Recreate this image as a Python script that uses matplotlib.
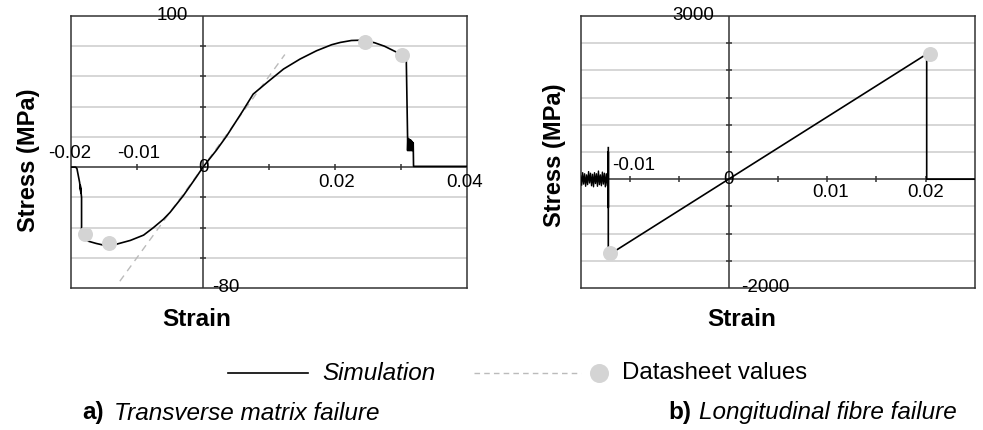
import numpy as np
import matplotlib
matplotlib.use('Agg')
import matplotlib.pyplot as plt
from matplotlib.lines import Line2D

plt.rcParams['font.family'] = ['Liberation Sans', 'DejaVu Sans']

# a) transverse matrix failure
sim_a_strain = [-0.0200, -0.0193, -0.0191, -0.0187, -0.0185, -0.0186, -0.0184, -0.0184,
                -0.0179, -0.0174, -0.0162, -0.0151, -0.0131, -0.0110, -0.0090, -0.0075,
                -0.0060, -0.0050, -0.0030, -0.0010, 0.0000, 0.0020, 0.0036, 0.0060,
                0.0076, 0.0097, 0.0122, 0.0147, 0.0172, 0.0195, 0.0208, 0.0225,
                0.0240, 0.0260, 0.0275, 0.0294, 0.0308]
sim_a_stress = [0.0, 0.0, -1.0, -10.0, -17.0, -12.0, -20.0, -46.0,
                -47.5, -49.0, -50.5, -51.6, -51.0, -48.5, -45.0, -40.0,
                -34.5, -30.0, -19.0, -6.5, 0.0, 11.0, 20.7, 37.0,
                48.3, 56.0, 64.9, 71.5, 77.0, 81.0, 82.5, 83.8,
                84.0, 82.3, 80.0, 75.9, 71.5]
# drop after failure, ringing, then zero
drop_a_strain = [0.0308, 0.0310, 0.03100, 0.03105, 0.03110, 0.03115, 0.03120, 0.03125,
                 0.03130, 0.03135, 0.03140, 0.03145, 0.03150, 0.03155, 0.03160, 0.03165,
                 0.03170, 0.03175, 0.03180, 0.03185, 0.0319, 0.0400]
drop_a_stress = [71.5, 19.0, 11.0, 19.0, 11.0, 18.5, 11.0, 18.5, 11.0, 18.0, 11.0,
                 18.0, 11.0, 17.5, 11.0, 17.0, 11.0, 16.5, 11.0, 16.0, 0.5, 0.5]
data_a_strain = [-0.0179, -0.0143, 0.02455, 0.0301]
data_a_stress = [-44.3, -50.5, 82.5, 74.1]
slope_a_strain = [-0.0126, 0.0124]
slope_a_stress = [-75.5, 74.5]

# b) longitudinal fibre failure
noise_b_strain = [-0.0150, -0.0149, -0.0148, -0.0147, -0.0146, -0.0145, -0.0144, -0.0143,
                  -0.0142, -0.0141, -0.0140, -0.0139, -0.0138, -0.0137, -0.0136, -0.0135,
                  -0.0134, -0.0133, -0.0132, -0.0131, -0.0130, -0.0129, -0.0128, -0.0127,
                  -0.0126, -0.0125, -0.0124, -0.0123, -0.0122]
noise_b_stress = [60, -110, 120, -90, 100, -130, 80, -100, 140, -70, 110, -120, 90, -140,
                  120, -80, 100, -130, 150, -100, 80, -120, 130, -90, 110, -140, 100, -120, 0]
sim_b_strain = [-0.0122, -0.0122, -0.0122, -0.0122, 0.0, 0.0201, 0.0201, 0.0250]
sim_b_stress = [580, -520, 500, -1397, 0, 2300, 0, 0]
data_b_strain = [-0.0120, 0.02047]
data_b_stress = [-1348, 2298]

fig = plt.figure(figsize=(9.83, 4.30), dpi=100)

grey = '#cccccc'
dot = '#d4d4d4'
frame = '#333333'


def setup(ax, xlim, ylim, ystep, xticks):
    ax.set_xlim(*xlim)
    ax.set_ylim(*ylim)
    for y in np.arange(ylim[0] + ystep, ylim[1], ystep):
        if abs(y) > 1e-9:
            ax.axhline(y, color=grey, lw=1.1, zorder=0)
    ax.axhline(0, color=frame, lw=1.1, zorder=1)
    ax.axvline(0, color=frame, lw=1.1, zorder=1)
    yt = np.arange(ylim[0] + ystep, ylim[1], ystep)
    ax.plot(np.zeros(len(yt)), yt, ls='none', marker='_', ms=5, mew=1.1, color=frame, zorder=1)
    ax.plot(xticks, np.zeros(len(xticks)), ls='none', marker='|', ms=5, mew=1.1, color=frame, zorder=1)
    ax.set_xticks([])
    ax.set_yticks([])
    for s in ax.spines.values():
        s.set_color(frame)
        s.set_linewidth(1.1)


# left panel
ax1 = fig.add_axes([71 / 983, 1 - 288 / 430, 396 / 983, 272 / 430])
setup(ax1, (-0.02, 0.04), (-80, 100), 20, [-0.01, 0.01, 0.02, 0.03])
ax1.plot(slope_a_strain, slope_a_stress, color='#bbbbbb', lw=1.0, ls=(0, (5, 4)), zorder=2)
ax1.plot(sim_a_strain, sim_a_stress, color='black', lw=1.2, zorder=3)
ax1.plot(drop_a_strain, drop_a_stress, color='black', lw=1.2, zorder=3)
ax1.plot(data_a_strain, data_a_stress, ls='none', marker='o', ms=10.8, color=dot, mec='none', zorder=4)

lab_a = ['100', '-80', '0', '-0.02', '-0.01', '0.02', '0.04']
pos_a = [(-0.0047, 100), (0.0034, -80), (0.0, 0), (-0.0202, 9.3), (-0.0097, 9.3), (0.0202, -10), (0.0396, -10)]
for t, (x, y) in zip(lab_a, pos_a):
    ax1.text(x, y, t, fontsize=13.5, ha='center', va='center', clip_on=False, zorder=5)

# right panel
ax2 = fig.add_axes([580.7 / 983, 1 - 288 / 430, 394.3 / 983, 272 / 430])
setup(ax2, (-0.015, 0.025), (-2000, 3000), 500,
      [-0.01, -0.005, 0.005, 0.01, 0.015, 0.02])
ax2.plot(noise_b_strain, noise_b_stress, color='black', lw=1.0, zorder=3)
ax2.plot(sim_b_strain, sim_b_stress, color='black', lw=1.2, zorder=3)
ax2.plot(data_b_strain, data_b_stress, ls='none', marker='o', ms=10.8, color=dot, mec='none', zorder=4)

lab_b = ['3000', '-2000', '0', '-0.01', '0.01', '0.02']
pos_b = [(-0.0036, 3000), (0.0037, -2000), (0.0, 0), (-0.0096, 257), (0.0103, -240), (0.0200, -240)]
for t, (x, y) in zip(lab_b, pos_b):
    ax2.text(x, y, t, fontsize=13.5, ha='center', va='center', clip_on=False, zorder=5)

# axis titles
fig.text(28 / 983, 1 - 160 / 430, 'Stress (MPa)', rotation=90, fontsize=17, fontweight='bold', ha='center', va='center')
fig.text(555 / 983, 1 - 155 / 430, 'Stress (MPa)', rotation=90, fontsize=17, fontweight='bold', ha='center', va='center')
fig.text(197 / 983, 1 - 319 / 430, 'Strain', fontsize=17.5, fontweight='bold', ha='center', va='center')
fig.text(742 / 983, 1 - 319 / 430, 'Strain', fontsize=17.5, fontweight='bold', ha='center', va='center')

# legend
ly = 1 - 373 / 430
fig.add_artist(Line2D([228 / 983, 308 / 983], [ly, ly], color='black', lw=1.2))
fig.text(322 / 983, ly, 'Simulation', fontsize=17.5, style='italic', ha='left', va='center')
fig.add_artist(Line2D([474 / 983, 581 / 983], [ly, ly], color='#bbbbbb', lw=1.0, ls=(0, (4, 3))))
fig.add_artist(Line2D([599 / 983], [ly], ls='none', marker='o', ms=13.7, color=dot, mec='none'))
fig.text(622 / 983, ly, 'Datasheet values', fontsize=17.3, ha='left', va='center')

# captions
cy = 1 - 413 / 430
fig.text(82 / 983, cy, 'a)', fontsize=17.5, fontweight='bold', ha='left', va='center')
fig.text(114 / 983, cy, 'Transverse matrix failure', fontsize=17.5, style='italic', ha='left', va='center')
fig.text(668 / 983, cy, 'b)', fontsize=17.5, fontweight='bold', ha='left', va='center')
fig.text(699 / 983, cy, 'Longitudinal fibre failure', fontsize=17.5, style='italic', ha='left', va='center')

plt.savefig('out.png', dpi=100)
